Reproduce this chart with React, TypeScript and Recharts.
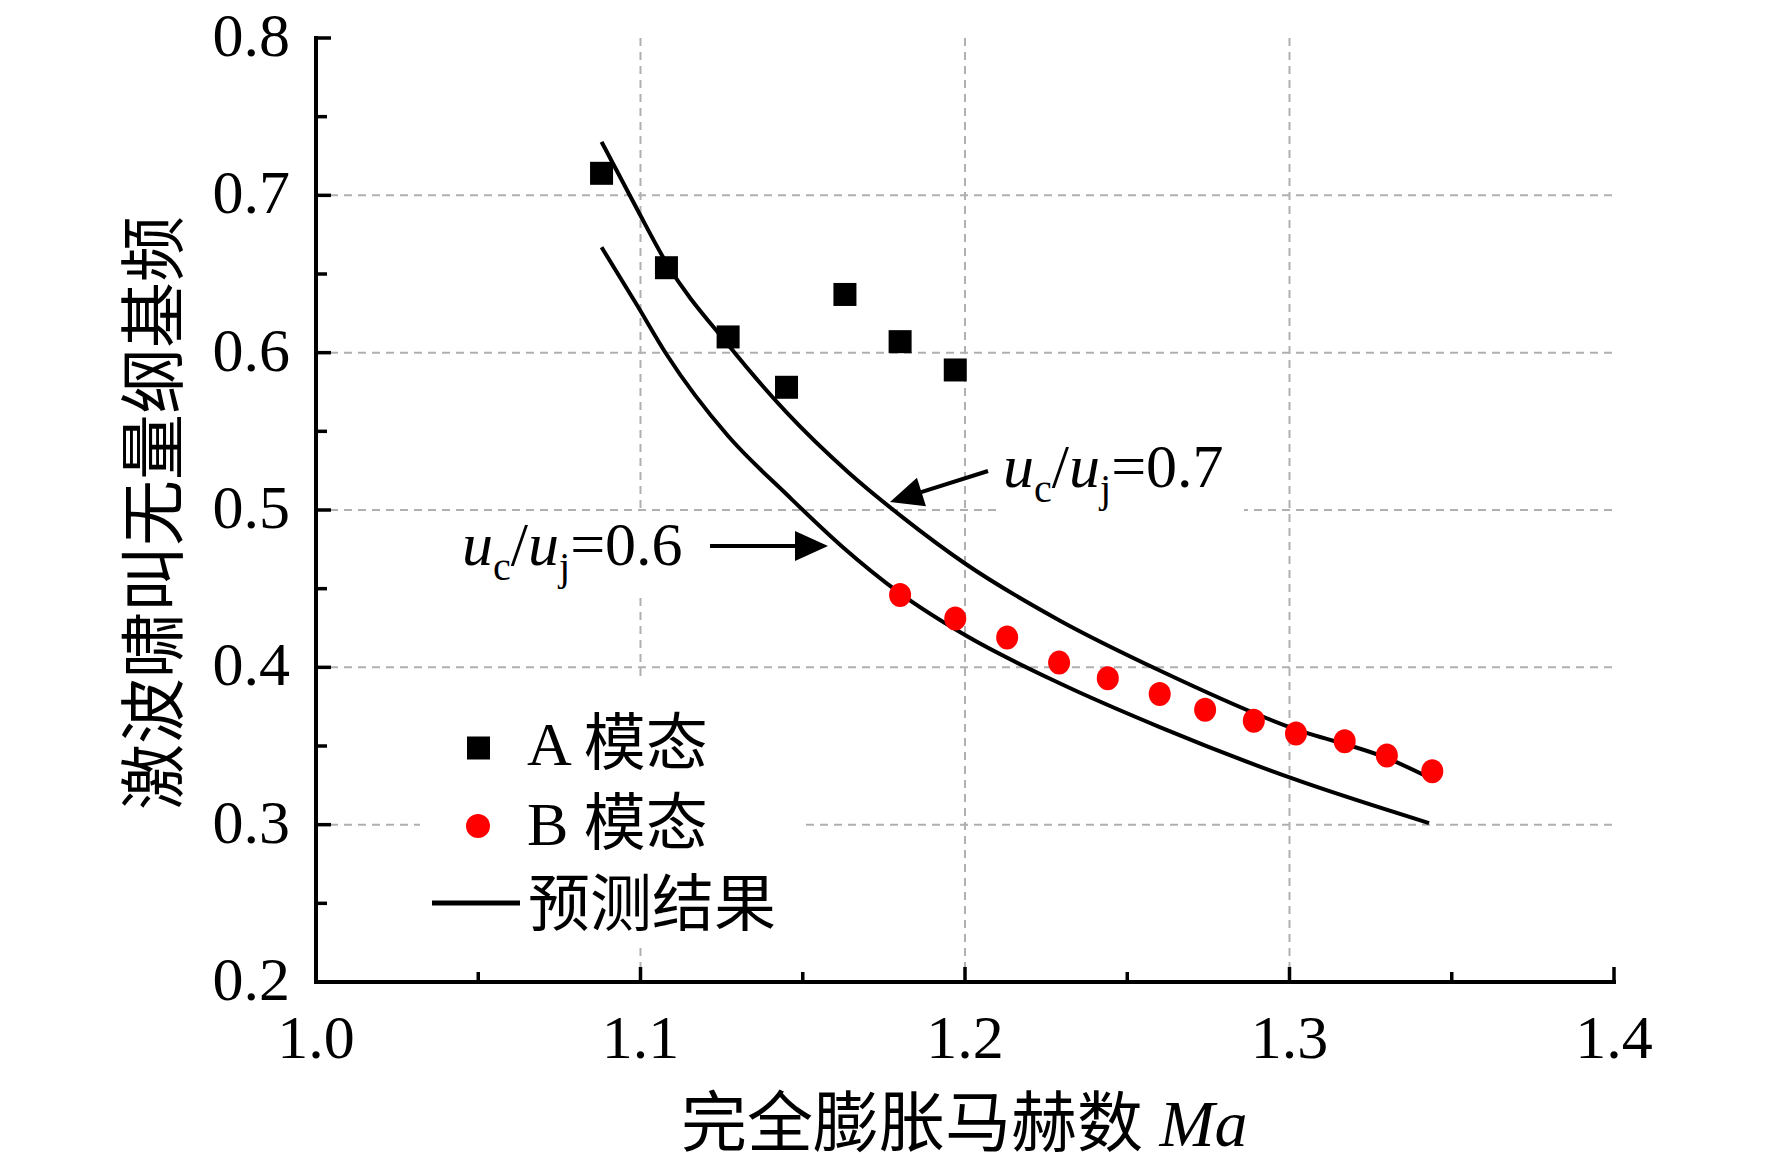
import React from 'react';
import {
  ComposedChart,
  Line,
  Scatter,
  XAxis,
  YAxis,
  CartesianGrid,
  Legend,
} from 'recharts';

// Mach number vs. dimensionless screech fundamental frequency

const MODE_A_MA = [1.088, 1.108, 1.127, 1.145, 1.163, 1.180, 1.197];
const MODE_A_FREQ = [0.714, 0.654, 0.610, 0.578, 0.637, 0.607, 0.589];

const MODE_B_MA = [1.180, 1.197, 1.213, 1.229, 1.244, 1.260, 1.274, 1.289, 1.302, 1.317, 1.330, 1.344];
const MODE_B_FREQ = [0.446, 0.431, 0.419, 0.403, 0.393, 0.383, 0.373, 0.366, 0.358, 0.353, 0.344, 0.334];

// prediction, uc/uj = 0.7
const PRED07_MA = [1.088, 1.099, 1.108, 1.127, 1.145, 1.164, 1.181, 1.200, 1.229, 1.260, 1.300, 1.331, 1.343];
const PRED07_FREQ = [0.734, 0.691, 0.657, 0.605, 0.562, 0.524, 0.495, 0.466, 0.430, 0.398, 0.362, 0.3415, 0.330];

// prediction, uc/uj = 0.6
const PRED06_MA = [1.088, 1.099, 1.108, 1.127, 1.145, 1.162, 1.180, 1.200, 1.229, 1.260, 1.300, 1.343];
const PRED06_FREQ = [0.667, 0.630, 0.599, 0.547, 0.510, 0.477, 0.447, 0.4205, 0.390, 0.362, 0.330, 0.301];

const X_TICKS = [1.0, 1.05, 1.1, 1.15, 1.2, 1.25, 1.3, 1.35, 1.4];
const Y_TICKS = [0.2, 0.25, 0.3, 0.35, 0.4, 0.45, 0.5, 0.55, 0.6, 0.65, 0.7, 0.75, 0.8];
const GRID_X = [1.1, 1.2, 1.3];
const GRID_Y = [0.3, 0.4, 0.5, 0.6, 0.7];

const SERIF = "'Liberation Serif', 'Noto Sans CJK SC', serif";

const toPoints = (xs: number[], ys: number[]) => xs.map((x, i) => ({ x, y: ys[i] }));

const modeA = toPoints(MODE_A_MA, MODE_A_FREQ);
const modeB = toPoints(MODE_B_MA, MODE_B_FREQ);
const pred07 = toPoints(PRED07_MA, PRED07_FREQ);
const pred06 = toPoints(PRED06_MA, PRED06_FREQ);

const isMajor = (v: number) => Math.abs(v * 10 - Math.round(v * 10)) < 1e-6;

function XTick(props: any) {
  const { x, y, payload } = props;
  const major = isMajor(payload.value);
  return (
    <g>
      <line x1={x} x2={x} y1={y} y2={y - (major ? 15 : 10)} stroke="#000" strokeWidth={3.5} />
      {major && (
        <text x={x} y={y + 76} textAnchor="middle" fontFamily={SERIF} fontSize={62} fill="#000">
          {payload.value.toFixed(1)}
        </text>
      )}
    </g>
  );
}

function YTick(props: any) {
  const { x, y, payload } = props;
  const major = isMajor(payload.value);
  return (
    <g>
      <line x1={x} x2={x + (major ? 15 : 11)} y1={y} y2={y} stroke="#000" strokeWidth={3.5} />
      {major && (
        <text x={x - 26} y={y + 18} textAnchor="end" fontFamily={SERIF} fontSize={62} fill="#000">
          {payload.value.toFixed(1)}
        </text>
      )}
    </g>
  );
}

const SquareDot = (p: any) => <rect x={p.cx - 11.5} y={p.cy - 11.5} width={23} height={23} fill="#000" />;
const RoundDot = (p: any) => <ellipse cx={p.cx} cy={p.cy} rx={11} ry={12} fill="#ff0000" />;

const LEGEND_ORDER: Record<string, number> = { square: 0, circle: 1, line: 2 };

function renderLegend({ payload }: any) {
  const items = (payload || [])
    .filter((e: any) => e.type in LEGEND_ORDER)
    .sort((a: any, b: any) => LEGEND_ORDER[a.type] - LEGEND_ORDER[b.type]);
  return (
    <svg width={385} height={262}>
      {items.map((e: any, i: number) => {
        const base = [85, 165, 246][i];
        const mid = [68, 146, 223][i];
        return (
          <g key={e.value}>
            {e.type === 'square' && <rect x={47} y={mid - 11.5} width={23} height={23} fill="#000" />}
            {e.type === 'circle' && <circle cx={58} cy={mid} r={12} fill="#ff0000" />}
            {e.type === 'line' && <line x1={12} x2={100} y1={mid} y2={mid} stroke="#000" strokeWidth={5} />}
            <text x={e.type === 'line' ? 108 : 107} y={base} fontFamily={SERIF} fontSize={62} fill="#000">
              {e.value}
            </text>
          </g>
        );
      })}
    </svg>
  );
}

function Arrow({ from, to }: { from: [number, number]; to: [number, number] }) {
  const [x1, y1] = from;
  const [x2, y2] = to;
  const len = Math.hypot(x2 - x1, y2 - y1);
  const ux = (x2 - x1) / len;
  const uy = (y2 - y1) / len;
  const hl = 33;
  const hw = 15;
  const bx = x2 - ux * hl;
  const by = y2 - uy * hl;
  const pts = `${x2},${y2} ${bx - uy * hw},${by + ux * hw} ${bx + uy * hw},${by - ux * hw}`;
  return (
    <g>
      <line x1={x1} y1={y1} x2={bx + ux * 2} y2={by + uy * 2} stroke="#000" strokeWidth={4} />
      <polygon points={pts} fill="#000" />
    </g>
  );
}

function Ratio({ x, y, value }: { x: number; y: number; value: string }) {
  return (
    <text x={x} y={y} fontFamily={SERIF} fontSize={62} fill="#000">
      <tspan fontStyle="italic">u</tspan>
      <tspan fontSize={40} dy={15}>c</tspan>
      <tspan dy={-15}>/</tspan>
      <tspan fontStyle="italic">u</tspan>
      <tspan fontSize={40} dy={15}>j</tspan>
      <tspan dy={-15}>={value}</tspan>
    </text>
  );
}

export default function App() {
  return (
    <div style={{ position: 'absolute', left: 0, top: 0, width: 1772, height: 1165, background: '#fff' }}>
      <ComposedChart width={1772} height={1165} margin={{ top: 38, right: 158, bottom: 83, left: 216 }}>
        <CartesianGrid
          horizontalValues={GRID_Y}
          verticalValues={GRID_X}
          stroke="#b0b0b0"
          strokeWidth={2}
          strokeDasharray="8 6"
        />
        <XAxis
          type="number"
          dataKey="x"
          domain={[1.0, 1.4]}
          ticks={X_TICKS}
          interval={0}
          height={100}
          tickSize={0}
          tickMargin={0}
          tickLine={false}
          tick={XTick}
          axisLine={{ stroke: '#000', strokeWidth: 4, strokeLinecap: 'square' }}
          allowDataOverflow
        />
        <YAxis
          type="number"
          dataKey="y"
          domain={[0.2, 0.8]}
          ticks={Y_TICKS}
          interval={0}
          width={100}
          tickSize={0}
          tickMargin={0}
          tickLine={false}
          tick={YTick}
          axisLine={{ stroke: '#000', strokeWidth: 4, strokeLinecap: 'square' }}
          allowDataOverflow
        />
        <Legend
          layout="vertical"
          align="center"
          verticalAlign="middle"
          content={renderLegend}
          wrapperStyle={{ left: 420, top: 680, width: 385, height: 262, background: '#fff' }}
        />
        <Line
          data={pred07}
          dataKey="y"
          name="预测结果"
          type="monotone"
          stroke="#000"
          strokeWidth={4}
          dot={false}
          activeDot={false}
          legendType="line"
          isAnimationActive={false}
        />
        <Line
          data={pred06}
          dataKey="y"
          name="预测结果 0.6"
          type="monotone"
          stroke="#000"
          strokeWidth={4}
          dot={false}
          activeDot={false}
          legendType="none"
          isAnimationActive={false}
        />
        <Scatter data={modeA} name="A 模态" shape={SquareDot} legendType="square" isAnimationActive={false} />
        <Scatter data={modeB} name="B 模态" shape={RoundDot} legendType="circle" isAnimationActive={false} />
      </ComposedChart>

      <svg
        width={1772}
        height={1165}
        style={{ position: 'absolute', left: 0, top: 0, pointerEvents: 'none' }}
      >
        {/* annotation labels sit on white boxes that hide the grid */}
        <rect x={1000} y={438} width={244} height={80} fill="#fff" />
        <Ratio x={1003} y={487} value="0.7" />
        <Arrow from={[988, 471]} to={[890, 502]} />

        <rect x={455} y={513} width={246} height={80} fill="#fff" />
        <Ratio x={462} y={565} value="0.6" />
        <Arrow from={[710, 546]} to={[828, 546]} />

        <text
          x={154}
          y={513}
          transform="rotate(-90 154 513)"
          textAnchor="middle"
          dominantBaseline="central"
          fontFamily={SERIF}
          fontSize={66}
          fill="#000"
        >
          激波啸叫无量纲基频
        </text>
        <text x={681} y={1146} fontFamily={SERIF} fontSize={66} fill="#000">
          完全膨胀马赫数 <tspan fontStyle="italic">Ma</tspan>
        </text>
      </svg>
    </div>
  );
}
